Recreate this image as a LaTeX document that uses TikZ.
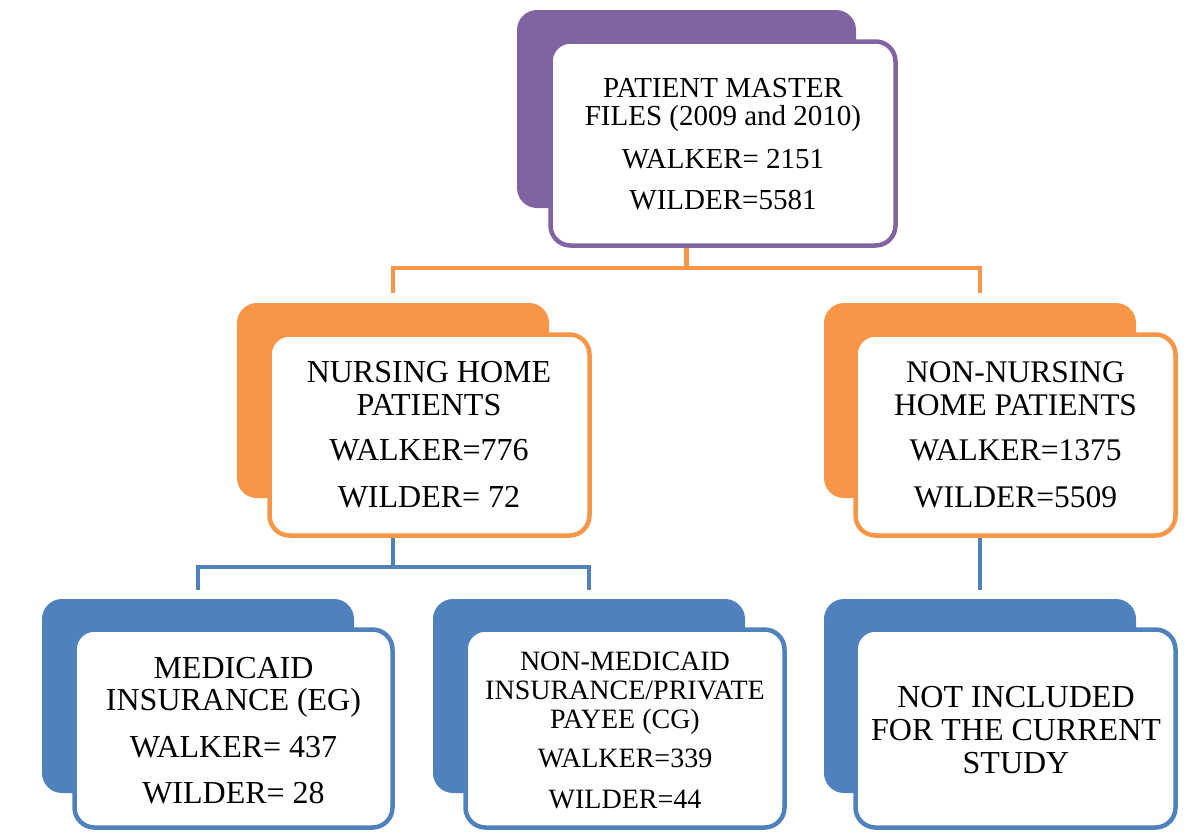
\documentclass[tikz,border=0pt]{standalone}
\usepackage{fontspec}
\setmainfont{Liberation Serif}
\definecolor{cpurple}{HTML}{8064A2}
\definecolor{corange}{HTML}{F79646}
\definecolor{cblue}{HTML}{4F81BD}
\begin{document}
\begin{tikzpicture}[x=1pt,y=-1pt,
  backbox/.style={rectangle, rounded corners=20pt, minimum width=312pt, minimum height=195pt, inner sep=0pt, fill=#1},
  frontbox/.style={rectangle, rounded corners=20pt, draw=#1, line width=4.5pt, fill=white, minimum width=320pt, minimum height=201pt, inner sep=0pt},
  conn/.style={draw=#1, line width=4.5pt},
  txt/.style={anchor=base, align=center, inner sep=0pt}]
\useasboundingbox (0,0) rectangle (1193,833);

% top
\node[backbox=cpurple, minimum width=339pt, minimum height=198pt] (topb) at (686.5,109) {};
\node[frontbox=cpurple, minimum width=345pt, minimum height=204pt] (topf) at (723,143.5) {};
\node[txt, font=\fontsize{29}{28}\selectfont] (toptxt) at (723,209) {PATIENT MASTER\\FILES (2009 and 2010)\\[15pt]WALKER= 2151\\[13pt]WILDER=5581};

% middle left
\node[backbox=corange] (mlb) at (393,400.5) {};
\node[frontbox=corange] (mlf) at (429.5,435) {};
\node[txt, font=\fontsize{32}{33}\selectfont] (mltxt) at (429,507) {NURSING HOME\\PATIENTS\\[12pt]WALKER=776\\[14pt]WILDER= 72};

% middle right
\node[backbox=corange] (mrb) at (980,400.5) {};
\node[frontbox=corange] (mrf) at (1015.5,435) {};
\node[txt, font=\fontsize{31.5}{33}\selectfont] (mrtxt) at (1015.5,507) {NON-NURSING\\HOME PATIENTS\\[12pt]WALKER=1375\\[14pt]WILDER=5509};

% bottom left
\node[backbox=cblue, minimum height=194pt] (blb) at (198,696) {};
\node[frontbox=cblue, minimum width=318pt, minimum height=198pt] (blf) at (233.5,728.5) {};
\node[txt, font=\fontsize{32}{32}\selectfont] (bltxt) at (233.5,803) {MEDICAID\\INSURANCE (EG)\\[15pt]WALKER= 437\\[14pt]WILDER= 28};

% bottom middle
\node[backbox=cblue, minimum height=194pt] (bmb) at (589,696) {};
\node[frontbox=cblue, minimum width=319pt, minimum height=198pt] (bmf) at (625,728.5) {};
\node[txt, font=\fontsize{28}{29}\selectfont] (bmtxt) at (625,808) {NON-MEDICAID\\INSURANCE/PRIVATE\\PAYEE (CG)\\[10pt]WALKER=339\\[12pt]WILDER=44};

% bottom right
\node[backbox=cblue, minimum height=194pt] (brb) at (980,696) {};
\node[frontbox=cblue, minimum height=198pt] (brf) at (1015.5,728.5) {};
\node[txt, font=\fontsize{32}{33}\selectfont] (brtxt) at (1016,773) {NOT INCLUDED\\FOR THE CURRENT\\STUDY};

% connectors
\coordinate (jo) at (686.5,268);
\coordinate (jb) at (393,567);
\draw[conn=corange] (topb.center |- topf.south) -- (jo);
\draw[conn=corange, shorten <=10pt, shorten >=10pt] (mlb.north) |- (jo) -| (mrb.north);
\draw[conn=cblue] (mlb.center |- mlf.south) -- (jb);
\draw[conn=cblue, shorten <=9pt, shorten >=9pt] (blb.north) |- (jb) -| (bmb.north);
\draw[conn=cblue, shorten >=9pt] (mrb.center |- mrf.south) -- (brb.north);
\end{tikzpicture}
\end{document}
